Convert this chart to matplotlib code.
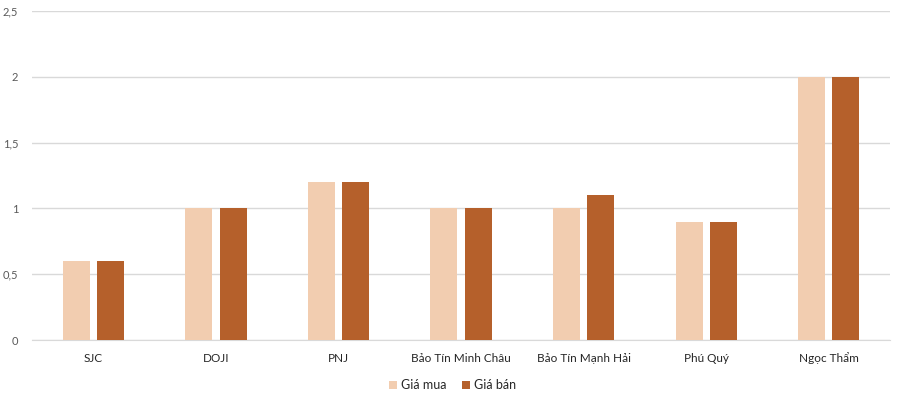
import matplotlib
matplotlib.use('Agg')
import matplotlib.pyplot as plt
import numpy as np
from matplotlib.ticker import FuncFormatter

categories = ['SJC', 'DOJI', 'PNJ', 'Bảo Tín Minh Châu', 'Bảo Tín Mạnh Hải', 'Phú Quý', 'Ngọc Thẩm']
gia_mua = [0.6, 1.0, 1.2, 1.0, 1.0, 0.9, 2.0]
gia_ban = [0.6, 1.0, 1.2, 1.0, 1.1, 0.9, 2.0]
yticks = [0, 0.5, 1, 1.5, 2, 2.5]

plt.rcParams['font.family'] = ['Lato', 'DejaVu Sans']

fig = plt.figure(figsize=(9, 4.01), dpi=100)
ax = fig.add_axes([0.0356, 0.152, 0.9534, 0.8206])

x = np.arange(len(categories))
w = 0.22
ax.bar(x - 0.14, gia_mua, w, color='#F2CDB0', label='Giá mua', zorder=3)
ax.bar(x + 0.14, gia_ban, w, color='#B5602B', label='Giá bán', zorder=3)

ax.set_xlim(-0.5, len(categories) - 0.5)
ax.set_ylim(0, 2.5)
ax.set_yticks(yticks)
ax.yaxis.set_major_formatter(FuncFormatter(lambda v, p: ('%g' % v).replace('.', ',')))
ax.set_xticks(x)
ax.set_xticklabels(categories, fontsize=8.5, color='#262626')
ax.tick_params(axis='y', labelsize=8, colors='#595959', length=0, pad=10)
ax.tick_params(axis='x', length=0, pad=9)
ax.grid(axis='y', color='#D9D9D9', linewidth=1, zorder=0)
for s in ['top', 'right', 'left']:
    ax.spines[s].set_visible(False)
ax.spines['bottom'].set_color('#D9D9D9')

ax.legend(loc='upper center', bbox_to_anchor=(0.49, -0.085), ncol=2, frameon=False,
          fontsize=9, handlelength=0.7, handleheight=0.7, handletextpad=0.3,
          columnspacing=1.2, labelcolor='#262626')

fig.savefig('out.png', dpi=100)
